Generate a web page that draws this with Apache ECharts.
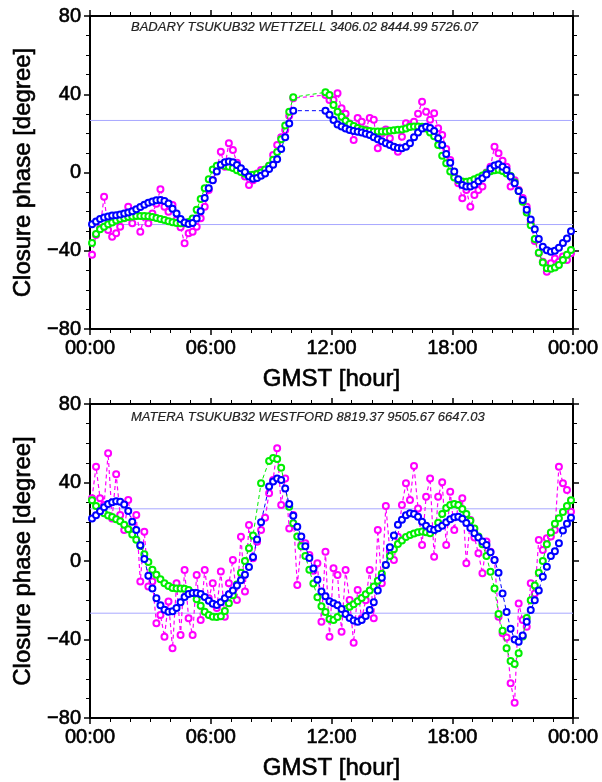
<!DOCTYPE html>
<html>
<head>
<meta charset="utf-8">
<script src="https://cdn.jsdelivr.net/npm/echarts@6/dist/echarts.min.js"></script>
<style>
html,body{margin:0;padding:0;background:#fff;}
#chart{width:602px;height:782px;}
</style>
</head>
<body>
<div id="chart"></div>
<script>
// Sample times (GMST hours)
const hours = [
 0.1,0.3,0.5,0.7,0.9,1.1,1.3,1.5,1.7,1.9,
 2.1,2.3,2.5,2.7,2.9,3.1,3.3,3.5,3.7,3.9,
 4.1,4.3,4.5,4.7,4.9,5.1,5.3,5.5,5.7,5.9,
 6.1,6.3,6.5,6.7,6.9,7.1,7.3,7.5,7.7,7.9,
 8.1,8.3,8.5,8.7,8.9,9.1,9.3,9.5,9.7,9.9,
 10.1,10.3,10.5,10.7,10.9,11.1,11.3,11.5,11.7,11.9,
 12.1,12.3,12.5,12.7,12.9,13.1,13.3,13.5,13.7,13.9,
 14.1,14.3,14.5,14.7,14.9,15.1,15.3,15.5,15.7,15.9,
 16.1,16.3,16.5,16.7,16.9,17.1,17.3,17.5,17.7,17.9,
 18.1,18.3,18.5,18.7,18.9,19.1,19.3,19.5,19.7,19.9,
 20.1,20.3,20.5,20.7,20.9,21.1,21.3,21.5,21.7,21.9,
 22.1,22.3,22.5,22.7,22.9,23.1,23.3,23.5,23.7,23.9
];

// Panel 1: BADARY TSUKUB32 WETTZELL
const topTitle = 'BADARY TSUKUB32 WETTZELL 3406.02 8444.99 5726.07';
const topMagenta = [
 -42,-32,-28.5,-12.4,-29.4,-32.8,-31,-27.7,-23.4,-17.5,
 -26,-22,-30.3,-22.6,-26,-20.9,-16,-8.6,-17.5,-20,
 -16.6,-24.3,-28,-36.2,-31,-30.3,-27.7,-23.4,-17.5,-9,
 -3.8,2,10.6,3,14.9,11.5,5,1.3,-2,-6.4,
 -4,-0.5,1.3,0.4,3.5,9,14,18,21.7,29,
 38,null,null,null,null,null,null,null,39.6,37,
 37,40.5,32.8,30,25,16.6,27.8,26,22,27.8,
 27,12.4,20,22,17.5,13,10.6,18.3,25.2,24,
 26,30,36.2,31.1,27,30.3,22.6,19.2,12,6.4,
 -2,-5.5,-13.2,-9,-17.5,-11.5,-9,-7.2,0,3,
 13.2,9.8,6,3,-7.2,-4,-9,-13,-17.5,-26,
 -35,-41.3,-45.6,-50.7,-46.4,-44,-45.6,-43,-44.7,-41.3
];
const topGreen = [
 -36,-31.5,-29,-27.7,-26.5,-25.5,-24.5,-23.8,-23.2,-22.8,
 -22.5,-22.3,-22.2,-22.2,-22.4,-22.8,-23.3,-23.8,-24.3,-24.9,
 -25.4,-25.8,-26,-26,-25.3,-23.5,-19,-13.5,-8,-3.5,
 1.5,3.4,3.8,3.5,3,2.3,1.2,0.2,-0.7,-1.3,
 -1.2,-0.8,0,1.5,3.5,6.5,10.5,17,24,31,
 38.5,null,null,null,null,null,null,null,41,39.6,
 34.5,31,28.5,26.5,24.8,23.8,22.8,22,21.5,21.2,
 21,20.9,20.9,21,21.3,21.6,21.8,22,22.5,23.2,
 23.5,23.5,23.4,22.5,20.5,18.5,14,8.5,4.7,0.5,
 -2.5,-4,-4.6,-4.7,-4.3,-3.5,-2.5,-1.5,-0.3,0.6,
 1.2,1.4,0.8,-0.5,-1.8,-5,-9.5,-15,-20.5,-27,
 -34,-41,-46,-49,-49.2,-48.6,-47.3,-44.7,-42,-39.6
];
const topBlue = [
 -26.5,-25,-23.8,-23,-22.5,-22,-21.8,-21.5,-21,-20.5,
 -19.8,-18.8,-17.6,-16.5,-15.5,-14.8,-14.2,-14,-14.6,-15.8,
 -18.5,-21,-23.8,-25.5,-26.3,-25.8,-23.5,-19.8,-13,-8,
 -4,0.5,4,5.3,5.6,5.2,3.8,2.2,0.3,-2,
 -3.2,-2.8,-1.6,-0.5,1.8,4,6.8,12,18,25,
 31.6,null,null,null,null,null,null,null,31.6,29.5,
 26.8,24.5,23.5,22.5,21.7,21.2,20.8,20.5,19.8,19.2,
 18,17,16,15,14,13.2,12.5,12.4,13.2,15,
 18,20.5,22.5,23.4,22.8,21.2,17.5,14,9.5,5,
 0.5,-3.5,-6.4,-7.2,-7.2,-6.3,-4.5,-3,-1,2,
 3.6,4.2,3,1.3,-2,-5.5,-9.5,-14,-19,-24,
 -29,-34,-37.9,-39.8,-40.5,-40,-38.5,-36,-33.7,-30
];

// Panel 2: MATERA TSUKUB32 WESTFORD
const botTitle = 'MATERA TSUKUB32 WESTFORD 8819.37 9505.67 6647.03';
const botMagenta = [
 32,48,32,28.5,54.9,21.7,44.2,23.4,15.8,31.1,
 18,23.4,-10.5,14.9,-13,-10.5,-31.7,-27.5,-38.6,-20.7,
 -44.5,-11.4,-37.7,-4.6,-29.2,-37.7,-7.1,-30,-4.6,-19,
 -11.4,-24,-5.4,-28.4,-11.4,0.5,-19.9,12.4,-15.6,18.3,
 1.4,9.8,15.8,22,34.5,41.3,57.4,28.5,42.1,16.6,
 23.4,-12.2,8.2,9,3.1,-5,-1.2,-30.9,4.7,-38.6,
 -3.7,-7.1,-36,-4.6,-19.9,-41.6,-14.8,-29.2,-20,-4.6,
 -29.2,15.8,-11.4,28,5,0.5,12.4,28.5,39.6,31.1,
 48.4,26.8,8.2,32.8,42.1,2.2,32.8,40.1,8.2,35.3,
 15.8,28.5,32,-1.2,20.9,12,3.9,-6.3,10,4.7,
 0.5,-28.4,-36.8,-39,-62.3,-72.2,-21.6,-30,-33.5,-11.4,
 -16.5,10.7,5.6,11.6,12.5,15.8,48,39.6,36.2,25.1
];
const botGreen = [
 31,28,25.5,24.3,23.2,22.4,21.3,20.2,18.5,16.2,
 13.5,10.8,7.7,3.5,-0.5,-4.5,-7,-9.3,-11.4,-12.8,
 -13.8,-14,-14,-14.2,-14.8,-16.3,-19.5,-22.8,-25.8,-27.5,
 -28.4,-28.5,-28.2,-25.5,-21.5,-17.5,-12,-6,0,6.5,
 13,null,39.6,null,51,52.5,52,47.5,null,27.7,
 19.2,12.5,7.5,2.5,-4.5,-11.5,-18.5,-23,-26,-29.5,
 -30,-28.5,-26.5,-24.5,-23.3,-22,-20.5,-18.8,-17,-15,
 -13,-10,-6.5,-2,2.5,6,8.7,10.5,12.2,13.2,
 14,14.7,15,14.6,14.1,15.8,19.5,24,27,28.5,
 29,28.5,26.5,24,20.5,16.5,12.5,8.5,2.5,-5.5,
 -14,-27,-35.5,-44.5,-51,-52.5,-47,-38.5,-29,-20,
 -12.5,-6,0,8.5,14.5,19,21.8,25,28,31
];
const botBlue = [
 21.7,23.3,25.3,27.4,29,30,30.4,30.2,28.8,25.5,
 20,15.8,8,1,-7.5,-14,-19,-22.5,-24.8,-25.8,
 -25.6,-24,-21,-18.3,-16.8,-16.3,-16.3,-16.8,-18.3,-20.2,
 -21.8,-22.4,-21,-19,-17,-15,-12.5,-9.8,-7,-3,
 2,11,19.8,null,38,40.5,42,41.3,37,29,
 23,17.5,12.5,7.5,1.5,-3.8,-9.5,-15.6,-18,-20.5,
 -21.5,-22.5,-24.5,-27,-29,-30.3,-30.9,-30,-28,-25,
 -21,-15,-8.5,-2,7,13,18.5,21,23.3,24.3,
 24,22.5,20,18,16.3,15.8,16.7,18,19.8,21.3,
 22.3,22.6,21.5,19.3,16.8,14.2,12,10,8.2,4.5,
 0.5,-6,-16.5,-26,-34.5,-40,-41.1,-38,-31,-25,
 -20,-15,-8,-2.9,2.5,5,9,15.5,19,22
];

const refLines = [26.6, -26.6];
const xTicks = [0, 6, 12, 18, 24];
const xTickLabels = ['00:00', '06:00', '12:00', '18:00', '00:00'];
const yTicks = [-80, -40, 0, 40, 80];
const yTickLabels = ['\u221280', '\u221240', '0', '40', '80'];

const FONT = 'Liberation Sans, Helvetica, Arial, sans-serif';
const colors = { magenta: '#ff00ff', green: '#00ee00', blue: '#0000ff', ref: '#a8a8ff' };

function pairs(vals) {
  const out = [];
  vals.forEach((v, i) => { if (v !== null) out.push([hours[i], v]); });
  return out;
}

const grids = [
  { left: 90, top: 16, width: 483, height: 313 },
  { left: 90, top: 404, width: 483, height: 314 }
];

const labelText = { color: '#000', fontFamily: FONT, fontSize: 20, textBorderColor: '#000', textBorderWidth: 0.6 };
const nameText = { color: '#000', fontFamily: FONT, fontSize: 24, textBorderColor: '#000', textBorderWidth: 0.6 };

const xAxes = [], yAxes = [], series = [], titles = [];
const panels = [
  { title: topTitle, m: topMagenta, g: topGreen, b: topBlue, titleTop: 21 },
  { title: botTitle, m: botMagenta, g: botGreen, b: botBlue, titleTop: 411 }
];

panels.forEach((p, gi) => {
  const lineAx = { show: true, onZero: false, lineStyle: { color: '#000', width: 2 } };
  const tick = { show: true, inside: false, length: 6, lineStyle: { color: '#000', width: 1.5 } };
  xAxes.push({
    gridIndex: gi, type: 'value', min: 0, max: 24, interval: 6, position: 'bottom',
    axisLine: lineAx, axisTick: tick,
    minorTick: { show: true, splitNumber: 6, length: 4, lineStyle: { color: '#000', width: 1 } },
    splitLine: { show: false },
    axisLabel: Object.assign({ margin: 9, formatter: v => xTickLabels[xTicks.indexOf(v)] }, labelText),
    name: 'GMST [hour]', nameLocation: 'middle', nameGap: 38,
    nameTextStyle: nameText
  });
  xAxes.push({
    gridIndex: gi, type: 'value', min: 0, max: 24, interval: 6, position: 'top',
    axisLine: lineAx, axisTick: tick,
    minorTick: { show: true, splitNumber: 6, length: 4, lineStyle: { color: '#000', width: 1 } },
    splitLine: { show: false }, axisLabel: { show: false }
  });
  yAxes.push({
    gridIndex: gi, type: 'value', min: -80, max: 80, interval: 40, position: 'left',
    axisLine: lineAx, axisTick: tick,
    minorTick: { show: true, splitNumber: 4, length: 4, lineStyle: { color: '#000', width: 1 } },
    splitLine: { show: false },
    axisLabel: Object.assign({ margin: 9, formatter: v => yTickLabels[yTicks.indexOf(v)] }, labelText),
    name: 'Closure phase [degree]', nameLocation: 'middle', nameGap: 45,
    nameTextStyle: nameText
  });
  yAxes.push({
    gridIndex: gi, type: 'value', min: -80, max: 80, interval: 40, position: 'right',
    axisLine: lineAx, axisTick: tick,
    minorTick: { show: true, splitNumber: 4, length: 4, lineStyle: { color: '#000', width: 1 } },
    splitLine: { show: false }, axisLabel: { show: false }
  });
  const xi = gi * 2, yi = gi * 2;
  refLines.forEach(r => {
    series.push({
      type: 'line', xAxisIndex: xi, yAxisIndex: yi, data: [[0, r], [24, r]],
      showSymbol: false, silent: true, z: 1,
      lineStyle: { color: colors.ref, width: 1 }
    });
  });
  [['m', colors.magenta, 1.2], ['g', colors.green, 1], ['b', colors.blue, 1]].forEach(([k, c, w], si) => {
    series.push({
      type: 'line', xAxisIndex: xi, yAxisIndex: yi, data: pairs(p[k]),
      symbol: 'emptyCircle', symbolSize: 6, showSymbol: true, connectNulls: true,
      z: 2 + si,
      itemStyle: { color: c, borderColor: c, borderWidth: 1.1 },
      lineStyle: { color: c, width: w, type: [4, 3] }
    });
  });
  titles.push({
    text: p.title, left: 131, top: p.titleTop, padding: 0,
    textStyle: { fontFamily: FONT, fontSize: 13, fontStyle: 'italic', fontWeight: 'normal', color: '#222',
      textBorderColor: '#222', textBorderWidth: 0.2 }
  });
});

const chart = echarts.init(document.getElementById('chart'), null, { renderer: 'canvas' });
chart.setOption({
  animation: false,
  backgroundColor: '#fff',
  title: titles,
  grid: grids,
  xAxis: xAxes,
  yAxis: yAxes,
  series: series
});
</script>
</body>
</html>
